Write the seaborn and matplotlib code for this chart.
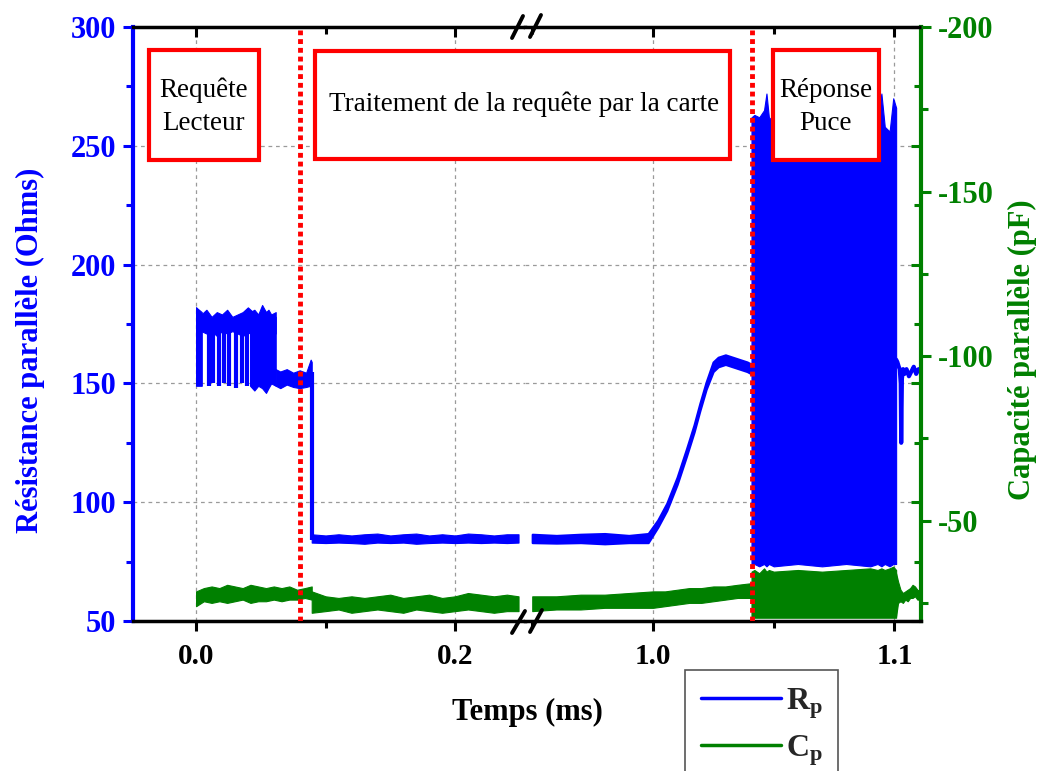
import numpy as np
import pandas as pd
import matplotlib.pyplot as plt
import seaborn as sns
from matplotlib.lines import Line2D
from matplotlib.patches import Rectangle
from matplotlib.ticker import MultipleLocator

# ---- donnees (temps en ms) ----
# Rp : requete lecteur, haut de la bande modulee
rp_a_t = [0.000, 0.004, 0.008, 0.012, 0.016, 0.020, 0.024, 0.028, 0.032, 0.036, 0.040, 0.044, 0.048, 0.052, 0.056, 0.0615]
rp_a_hi = [182, 179, 181, 178, 180, 179, 181, 178, 179, 180, 182, 180, 179, 181, 179, 178]
rp_a_lo = [171, 172, 171, 172, 170, 172, 171, 172, 171, 170, 171, 172, 170, 171, 172, 171]
# impulsions vers le bas
rp_dip_t = [0.0100, 0.0134, 0.0180, 0.0219, 0.0252, 0.0309, 0.0353, 0.0396]
rp_dip_lo = [149, 150, 149, 150, 149, 148, 150, 149]
# zones denses
rp_d1_t = [0.000, 0.0044]
rp_d1_lo = [149, 149]
rp_d1_hi = [182, 180]
rp_d2_t = [0.0417, 0.045, 0.048, 0.051, 0.054, 0.0559, 0.058, 0.0615]
rp_d2_lo = [149, 147, 149, 148, 146, 148, 150, 149]
rp_d2_hi = [180, 181, 179, 183, 180, 181, 179, 180]
# palier ~152 avant la chute
rp_b_t = [0.0615, 0.065, 0.070, 0.075, 0.080, 0.085, 0.0885, 0.0893]
rp_b_hi = [156, 155, 156, 154.5, 155.5, 154.5, 160, 159]
rp_b_lo = [149, 148, 149.5, 148.5, 148, 148.5, 149, 148.5]
rp_step_t = [0.0893]
rp_step_lo = [84]
rp_step_hi = [155]
# traitement, panneau gauche
rp_c_t = [0.0893, 0.100, 0.110, 0.120, 0.130, 0.140, 0.150, 0.160, 0.170, 0.180, 0.190, 0.200, 0.210, 0.220, 0.230, 0.240, 0.249]
rp_c_hi = [86.5, 86.0, 86.5, 86.0, 86.5, 86.8, 86.0, 86.5, 86.8, 86.0, 86.5, 86.0, 86.8, 86.5, 86.0, 86.5, 86.5]
rp_c_lo = [83.0, 82.8, 83.0, 82.8, 82.5, 83.0, 82.8, 83.0, 82.5, 82.8, 83.0, 82.8, 83.0, 82.8, 83.0, 82.8, 83.0]
# traitement, panneau droit + rampe + palier
rp_e_t = [0.950, 0.960, 0.970, 0.980, 0.990, 0.998, 1.002, 1.0057, 1.010, 1.0139, 1.017, 1.0194, 1.022, 1.0249, 1.027, 1.030, 1.033, 1.036, 1.039, 1.0408]
rp_e_hi = [86.5, 86.0, 86.5, 86.8, 86.0, 86.8, 92.5, 99.5, 110.5, 122.5, 132.5, 141.5, 150.5, 159, 161, 162, 161, 160, 159, 158]
rp_e_lo = [83.0, 82.8, 83.0, 82.5, 83.0, 83.0, 89.5, 96.5, 107.5, 119.5, 129.5, 138.5, 147.5, 155, 157, 158, 157, 156, 155, 154]
# reponse puce (modulation rapide)
rp_g_t = [1.0408, 1.0420, 1.0440, 1.0460, 1.0470, 1.0480, 1.0500, 1.0600, 1.0700, 1.0800, 1.0900, 1.0930, 1.0946, 1.0960, 1.0980, 1.0995, 1.1007]
rp_g_hi = [262, 263, 262, 265, 272, 262, 260, 262, 262, 262, 262, 263, 272, 258, 256, 270, 266]
rp_g_lo = [73, 74, 73, 74, 73, 74, 73, 74, 73, 74, 73, 74, 73, 74, 73, 74, 74]
# apres la reponse
rp_h_t = [1.1007, 1.1012, 1.1018, 1.1022, 1.1026, 1.1028, 1.1031, 1.1036, 1.1042, 1.1050, 1.1060, 1.1070, 1.1080, 1.1090, 1.1100, 1.1110]
rp_h_v = [160, 159, 157, 156, 150, 125, 152, 156, 154, 156, 153, 155, 157, 154, 156, 155]

# Cp (pF) : haut (plus negatif) et bas de la bande de bruit
cp_a_t = [0.000, 0.006, 0.012, 0.018, 0.024, 0.030, 0.036, 0.042, 0.048, 0.054, 0.060, 0.066, 0.072, 0.078, 0.084, 0.0893]
cp_a_top = [-28.5, -29.5, -30.0, -29.5, -30.5, -30.0, -29.5, -30.5, -30.0, -29.5, -30.0, -29.5, -30.0, -29.0, -29.5, -30.0]
cp_a_bot = [-24.0, -25.5, -25.0, -25.5, -25.0, -25.5, -26.0, -25.0, -25.5, -25.5, -26.0, -25.5, -26.0, -26.0, -26.5, -26.0]
cp_b_t = [0.0893, 0.100, 0.110, 0.120, 0.130, 0.140, 0.150, 0.160, 0.170, 0.180, 0.190, 0.200, 0.210, 0.220, 0.230, 0.240, 0.249]
cp_b_top = [-28.5, -27.0, -26.5, -27.0, -26.5, -27.0, -27.5, -26.5, -27.0, -27.5, -26.5, -27.0, -28.0, -27.5, -27.0, -27.5, -27.0]
cp_b_bot = [-22.0, -22.5, -23.0, -22.0, -22.5, -23.0, -22.5, -22.0, -23.0, -22.5, -22.0, -22.5, -23.0, -22.5, -22.0, -22.5, -22.5]
cp_c_t = [0.950, 0.960, 0.970, 0.980, 0.990, 1.000, 1.005, 1.010, 1.015, 1.020, 1.025, 1.030, 1.035, 1.0408]
cp_c_top = [-27.0, -27.0, -27.5, -27.5, -28.0, -28.5, -28.5, -29.0, -29.5, -29.5, -30.0, -30.0, -30.5, -31.0]
cp_c_bot = [-22.5, -23.0, -23.0, -23.5, -23.5, -23.5, -24.0, -24.5, -25.0, -25.0, -25.5, -26.0, -26.5, -26.5]
cp_g_top = [-34.5, -35.0, -34.0, -35.5, -34.5, -35.0, -34.5, -35.0, -34.5, -35.0, -35.5, -35.0, -35.5, -35.0, -35.5, -36.0, -35.0]
cp_g_bot = [-20.5, -20.5, -20.5, -20.5, -20.5, -20.5, -20.5, -20.5, -20.5, -20.5, -20.5, -20.5, -20.5, -20.5, -20.5, -20.5, -20.5]
cp_d_t = [1.1007, 1.1015, 1.1025, 1.1035, 1.1045, 1.1055, 1.1065, 1.1075, 1.1085, 1.1095, 1.1110]
cp_d_top = [-34.0, -31.5, -29.0, -28.0, -28.5, -29.0, -29.5, -30.5, -30.0, -29.0, -28.5]
cp_d_bot = [-21.0, -25.0, -25.5, -25.0, -26.0, -25.5, -26.5, -26.5, -27.0, -26.0, -26.0]

# limites des phases (lignes rouges)
phase_left = [0.0803]
phase_right = [1.0409]

BLUE = '#0000ff'
GREEN = '#008000'
RED = '#ff0000'

sns.set_theme(style='white')
plt.rcParams['font.family'] = ['Liberation Serif', 'DejaVu Serif']
plt.rcParams['font.weight'] = 'bold'
plt.rcParams['axes.unicode_minus'] = False
plt.rcParams['mathtext.fontset'] = 'custom'
plt.rcParams['mathtext.rm'] = 'Liberation Serif'
plt.rcParams['mathtext.bf'] = 'Liberation Serif:bold'

W, H = 1047, 771
fig = plt.figure(figsize=(10.47, 7.71), dpi=100)


def fx(px):
    return px / W


def fy(py):
    return 1 - py / H


axL = fig.add_axes([fx(133), fy(621), fx(525) - fx(133), (621 - 27) / H])
axR = fig.add_axes([fx(525), fy(621), fx(921) - fx(525), (621 - 27) / H])
twL = axL.twinx()
twR = axR.twinx()


def band(ax, t, lo, hi, color, lw=0.8):
    ax.fill_between(t, lo, hi, color=color, edgecolor=color, lw=lw)


# Rp
band(axL, rp_a_t, rp_a_lo, rp_a_hi, BLUE)
axL.vlines(rp_dip_t, rp_dip_lo, 175, color=BLUE, lw=3)
band(axL, rp_d1_t, rp_d1_lo, rp_d1_hi, BLUE)
band(axL, rp_d2_t, rp_d2_lo, rp_d2_hi, BLUE)
band(axL, rp_b_t, rp_b_lo, rp_b_hi, BLUE)
axL.vlines(rp_step_t, rp_step_lo, rp_step_hi, color=BLUE, lw=3)
band(axL, rp_c_t, rp_c_lo, rp_c_hi, BLUE)
band(axR, rp_e_t, rp_e_lo, rp_e_hi, BLUE, lw=1.6)
band(axR, rp_g_t, rp_g_lo, rp_g_hi, BLUE)
sns.lineplot(x=rp_h_t, y=rp_h_v, ax=axR, color=BLUE, lw=3, estimator=None, sort=False)

# Cp
band(twL, cp_a_t, cp_a_bot, cp_a_top, GREEN)
band(twL, cp_b_t, cp_b_bot, cp_b_top, GREEN)
band(twR, cp_c_t, cp_c_bot, cp_c_top, GREEN)
band(twR, rp_g_t, cp_g_bot, cp_g_top, GREEN)
band(twR, cp_d_t, cp_d_bot, cp_d_top, GREEN)

# lignes rouges pointillees
for x in phase_left:
    twL.axvline(x, color=RED, lw=3.5, ls=(0, (1, 0.8)), zorder=6, ymax=0.995)
for x in phase_right:
    twR.axvline(x, color=RED, lw=3.5, ls=(0, (1, 0.8)), zorder=6, ymax=0.995)

# axes
axL.set_xlim(-0.0487, 0.254)
axR.set_xlim(0.947, 1.111)
axL.set_xticks([0.0, 0.2])
axL.set_xticklabels(['0.0', '0.2'])
axL.xaxis.set_minor_locator(MultipleLocator(0.1))
axR.set_xticks([1.0, 1.1])
axR.set_xticklabels(['1.0', '1.1'])
axR.xaxis.set_minor_locator(MultipleLocator(0.05))

for ax in (axL, axR):
    ax.set_ylim(50, 300)
    ax.set_yticks([50, 100, 150, 200, 250, 300])
    ax.yaxis.set_minor_locator(MultipleLocator(25))
    ax.grid(True, which='major', ls=(0, (3, 3)), color='#9a9a9a', lw=0.9)
    ax.set_axisbelow(True)
    ax.tick_params(axis='x', which='both', bottom=True, top=False, direction='out',
                   color='black', width=2.2, labelsize=21, pad=9, labelcolor='black')
    ax.tick_params(axis='x', which='major', length=7)
    ax.tick_params(axis='x', which='minor', length=5)
    for s in ('top', 'bottom'):
        ax.spines[s].set_color('black')
        ax.spines[s].set_linewidth(2.5)

axL.tick_params(axis='y', which='both', left=True, right=False, direction='out',
                color=BLUE, labelcolor=BLUE, width=2.2, labelsize=22, pad=5)
axL.tick_params(axis='y', which='major', length=7)
axL.tick_params(axis='y', which='minor', length=5)
axL.spines['right'].set_visible(False)
axL.spines['left'].set_color(BLUE)
axL.spines['left'].set_linewidth(3)

axR.tick_params(axis='y', which='both', left=False, right=True, labelleft=False, labelright=False,
                direction='in', color=GREEN, width=2.2)
axR.tick_params(axis='y', which='major', length=7)
axR.tick_params(axis='y', which='minor', length=5)
axR.spines['left'].set_visible(False)
axR.spines['right'].set_color(GREEN)
axR.spines['right'].set_linewidth(3)

for tw in (twL, twR):
    tw.set_ylim(-19.5, -200)
    for s in tw.spines.values():
        s.set_visible(False)
    tw.xaxis.set_visible(True)
    tw.tick_params(axis='x', which='both', bottom=False, top=True, labelbottom=False,
                   labeltop=False, direction='in', color='black', width=2.2)
    tw.tick_params(axis='x', which='major', length=7)
    tw.tick_params(axis='x', which='minor', length=5)

twL.tick_params(axis='y', which='both', left=False, right=False, labelleft=False, labelright=False)
twR.set_yticks([-200, -150, -100, -50])
twR.yaxis.set_minor_locator(MultipleLocator(25))
twR.tick_params(axis='y', which='both', right=True, left=False, direction='out',
                color=GREEN, labelcolor=GREEN, width=2.2, labelsize=22, pad=5)
twR.tick_params(axis='y', which='major', length=7)
twR.tick_params(axis='y', which='minor', length=5)
twR.set_ylim(-19.5, -200)

for ax in (axL, axR, twL, twR):
    ax.set_xlabel('')
    ax.set_ylabel('')
    if ax.get_legend() is not None:
        ax.get_legend().remove()

# marques de coupure //
for x0, x1, y0, y1 in [(512, 523, 38, 16), (530, 541, 37, 15),
                       (512, 525, 633, 611), (530, 542, 632, 610)]:
    fig.add_artist(Line2D([fx(x0), fx(x1)], [fy(y0), fy(y1)], transform=fig.transFigure,
                          color='black', lw=2.8, zorder=8))

# titres d'axes
fig.text(fx(30), fy(350), 'Résistance parallèle (Ohms)', rotation=90, color=BLUE,
         fontsize=22, fontweight='bold', ha='center', va='center')
fig.text(fx(1022), fy(350), 'Capacité parallèle (pF)', rotation=90, color=GREEN,
         fontsize=22, fontweight='bold', ha='center', va='center')
fig.text(fx(527), fy(712), 'Temps (ms)', color='black', fontsize=22, fontweight='bold',
         ha='center', va='center')

# encadres
boxes = [(149, 259, 50, 160, 'Requête\nLecteur', 204, 107),
         (315, 730, 51, 159, 'Traitement de la requête par la carte', 524, 104),
         (773, 879, 50, 160, 'Réponse\nPuce', 826, 107)]
for x0, x1, y0, y1, txt, tx, ty in boxes:
    fig.add_artist(Rectangle((fx(x0), fy(y1)), (x1 - x0) / W, (y1 - y0) / H,
                             transform=fig.transFigure, facecolor='white', edgecolor=RED,
                             lw=3, zorder=10))
    fig.text(fx(tx), fy(ty), txt, fontsize=19.5, fontweight='normal', color='black',
             ha='center', va='center', zorder=11, linespacing=1.4)

# legende
handles = [Line2D([], [], color=BLUE, lw=2.5), Line2D([], [], color=GREEN, lw=2.5)]
leg = fig.legend(handles, [r'$\mathbf{R_p}$', r'$\mathbf{C_p}$'], loc='upper left',
                 bbox_to_anchor=(fx(685), fy(670)), bbox_transform=fig.transFigure,
                 fontsize=23, handlelength=2.5, handletextpad=0.15, labelspacing=0.4,
                 borderpad=0.5, borderaxespad=0, fancybox=False, framealpha=1,
                 edgecolor='#555555')
leg.get_frame().set_linewidth(1.2)

fig.savefig('out.png', dpi=100)
